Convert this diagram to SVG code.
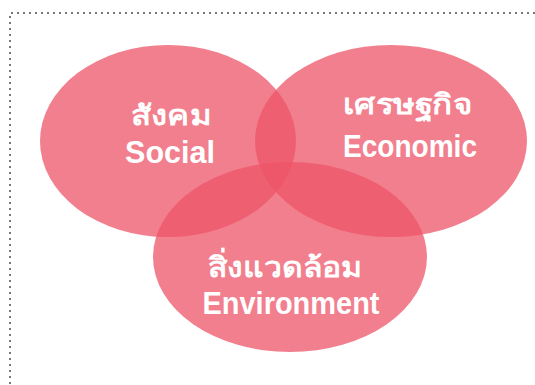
<svg xmlns="http://www.w3.org/2000/svg" width="535" height="385" viewBox="0 0 535 385">
<style>
.frame{fill:none;stroke:#777;stroke-width:2;stroke-dasharray:2 4}
.set{fill:#ee5468;fill-opacity:0.75}
.th{font-family:"Noto Sans","DejaVu Sans","Liberation Sans",sans-serif;font-weight:bold;fill:#fff;text-anchor:middle}
.en{font-family:"Liberation Sans Narrow","Liberation Sans",sans-serif;font-weight:bold;fill:#fff;text-anchor:middle}
</style>
<rect width="535" height="385" fill="#fff"/>
<path class="frame" d="M10 384 V13 H535"/>
<g id="connectors"/>
<g id="social">
<ellipse class="set" cx="168" cy="141" rx="128" ry="96"/>
<text class="th" x="171" y="125" font-size="28" textLength="80" lengthAdjust="spacingAndGlyphs">สังคม</text>
<text class="en" x="170" y="163" font-size="31" textLength="90" lengthAdjust="spacingAndGlyphs">Social</text>
</g>
<g id="economic">
<ellipse class="set" cx="391" cy="141" rx="136" ry="96"/>
<text class="th" x="407" y="114" font-size="28" textLength="129" lengthAdjust="spacingAndGlyphs">เศรษฐกิจ</text>
<text class="en" x="410" y="157" font-size="31" textLength="134" lengthAdjust="spacingAndGlyphs">Economic</text>
</g>
<g id="environment">
<ellipse class="set" cx="290" cy="257" rx="137" ry="95"/>
<text class="th" x="285" y="277" font-size="28" textLength="154" lengthAdjust="spacingAndGlyphs">สิ่งแวดล้อม</text>
<text class="en" x="291" y="314" font-size="31" textLength="177" lengthAdjust="spacingAndGlyphs">Environment</text>
</g>
</svg>
